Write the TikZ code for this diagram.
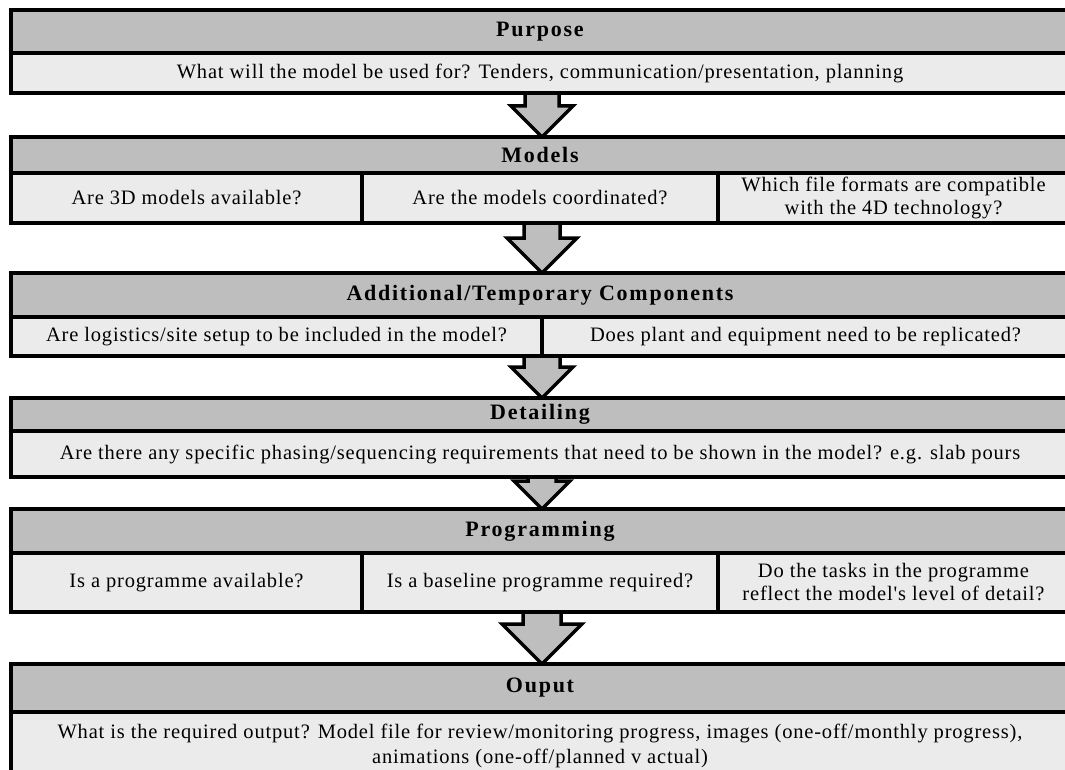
\documentclass[tikz,border=0pt]{standalone}
\usepackage{fontspec}
\setmainfont{Liberation Serif}
\newfontfamily\cellfont{Liberation Serif}[LetterSpace=4]
\newfontfamily\hdrfont{Liberation Serif}[LetterSpace=8]
\usetikzlibrary{calc}
\definecolor{hdrgray}{RGB}{190,190,190}
\definecolor{cellgray}{RGB}{235,235,235}
\tikzset{
  hdr/.style={draw, line width=3.5pt, fill=hdrgray, inner sep=0pt, outer sep=0pt, anchor=north west,
    font={\hdrfont\bfseries\fontsize{22}{26}\selectfont}},
  cell/.style={draw, line width=3.5pt, fill=cellgray, inner sep=0pt, outer sep=0pt, anchor=north west,
    align=center, font={\cellfont\fontsize{20.5}{23}\selectfont}},
  txt/.style={inner sep=0pt, align=center, font={\cellfont\fontsize{20.5}{24.5}\selectfont}},
  barrow/.style={draw, line width=3.5pt, fill=hdrgray, line join=miter},
}
\newcommand\blockarr[4]{%
  \draw[barrow] ($(#1)+(-#3,-4)$) -- ($(#2)+(-#3,-#4)$) -- ($(#2)+(-#4,-#4)$) -- (#2)
    -- ($(#2)+(#4,-#4)$) -- ($(#2)+(#3,-#4)$) -- ($(#1)+(#3,-4)$);}
\begin{document}
\begin{tikzpicture}[x=1pt, y=-1pt]
\useasboundingbox (0,0) rectangle (1065,770);
\clip (0,0) rectangle (1065,770);
% arrow end points
\coordinate (a1s) at (542,93);  \coordinate (a1t) at (542,137);
\coordinate (a2s) at (542,223); \coordinate (a2t) at (542,273);
\coordinate (a3s) at (542,356); \coordinate (a3t) at (542,398);
\coordinate (a4s) at (542,477); \coordinate (a4t) at (542,509);
\coordinate (a5s) at (542,612); \coordinate (a5t) at (542,664);
\blockarr{a1s}{a1t}{17}{31}
\blockarr{a2s}{a2t}{18}{35}
\blockarr{a3s}{a3t}{18}{31}
\blockarr{a4s}{a4t}{14}{28}
\blockarr{a5s}{a5t}{19}{40}
% Purpose
\node[hdr, minimum width=1058pt, minimum height=43pt] (h1) at (11,10) {Purpose};
\node[cell, minimum width=1058pt, minimum height=40pt] (c1) at (11,53) {What will the model be used for? Tenders, communication/presentation, planning};
% Models
\node[hdr, minimum width=1058pt, minimum height=36pt] (h2) at (11,137) {Models};
\node[cell, minimum width=351pt, minimum height=50pt] (c2a) at (11,173) {Are 3D models available?};
\node[cell, minimum width=356pt, minimum height=50pt] (c2b) at (362,173) {Are the models coordinated?};
\node[cell, minimum width=351pt, minimum height=50pt] (c2c) at (718,173) {Which file formats are compatible\\with the 4D technology?};
% Additional
\node[hdr, minimum width=1058pt, minimum height=44pt] (h3) at (11,273) {Additional/Temporary Components};
\node[cell, minimum width=531pt, minimum height=39pt] (c3a) at (11,317) {Are logistics/site setup to be included in the model?};
\node[cell, minimum width=527pt, minimum height=39pt] (c3b) at (542,317) {Does plant and equipment need to be replicated?};
% Detailing
\node[hdr, minimum width=1058pt, minimum height=33pt] (h4) at (11,398) {Detailing};
\node[cell, minimum width=1058pt, minimum height=46pt] (c4) at (11,431) {Are there any specific phasing/sequencing requirements that need to be shown in the model? e.g. slab pours};
% Programming
\node[hdr, minimum width=1058pt, minimum height=44pt] (h5) at (11,509) {Programming};
\node[cell, minimum width=351pt, minimum height=59pt] (c5a) at (11,553) {Is a programme available?};
\node[cell, minimum width=356pt, minimum height=59pt] (c5b) at (362,553) {Is a baseline programme required?};
\node[cell, minimum width=351pt, minimum height=59pt] (c5c) at (718,553) {Do the tasks in the programme\\reflect the model's level of detail?};
% Output
\node[hdr, minimum width=1058pt, minimum height=48pt] (h6) at (11,664) {Ouput};
\node[cell, minimum width=1058pt, minimum height=100pt] (c6) at (11,712) {};
\node[txt] (t6) at (540,746) {What is the required output? Model file for review/monitoring progress, images (one-off/monthly progress),\\animations (one-off/planned v actual)};
\end{tikzpicture}
\end{document}
